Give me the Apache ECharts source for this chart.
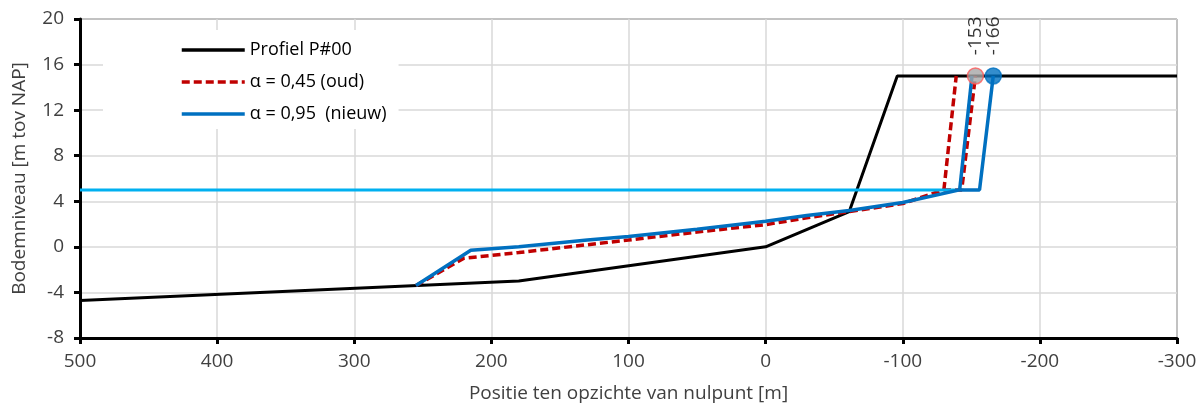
<!DOCTYPE html>
<html>
<head>
<meta charset="utf-8">
<script src="https://cdn.jsdelivr.net/npm/echarts@6/dist/echarts.min.js"></script>
<style>
  html, body { margin: 0; padding: 0; background: #fff; }
  #chart { width: 1200px; height: 403px; }
</style>
</head>
<body>
<div id="chart"></div>
<script>
// Bodemprofiel P#00 en afslagprofielen (positie t.o.v. nulpunt, hoogte t.o.v. NAP)
const profielX = [500, 180, 0, -61, -96, -300];
const profielY = [-4.7, -3.0, 0.0, 3.1, 15.0, 15.0];

const oudX = [255, 220, 180, 100, 50, 0, -30, -61, -100, -130, -143, -153];
const oudY = [-3.4, -1.0, -0.5, 0.6, 1.3, 1.95, 2.55, 3.1, 3.8, 5.0, 5.0, 15.0];
const oudTaludX = [-130, -139];
const oudTaludY = [5.0, 15.0];

const nieuwX = [255, 215, 180, 130, 100, 50, 0, -30, -61, -100, -141.5, -156, -166];
const nieuwY = [-3.4, -0.3, 0.0, 0.6, 0.9, 1.55, 2.25, 2.75, 3.2, 3.9, 5.0, 5.0, 15.0];
const nieuwTaludX = [-141.5, -150.5];
const nieuwTaludY = [5.0, 15.0];

const waterX = [500, -140];
const waterY = [5.0, 5.0];

const puntX = [-153, -166];
const puntY = [15, 15];

const xTicks = { min: -300, max: 500, interval: 100 };
const yTicks = { min: -8, max: 20, interval: 4 };

const pairs = (xs, ys) => xs.map((x, i) => [x, ys[i]]);

const FONT = '"Open Sans", "Noto Sans", sans-serif';
const TEXT = '#404040';

const chart = echarts.init(document.getElementById('chart'), null, { renderer: 'canvas' });

chart.setOption({
  animation: false,
  backgroundColor: '#fff',
  grid: {
    left: 80, right: 23, top: 19, bottom: 65,
    outerBoundsMode: 'none',
    show: true, borderColor: '#000', borderWidth: 1
  },
  legend: {
    orient: 'vertical',
    left: 103,
    top: 30,
    backgroundColor: '#fff',
    padding: [11, 12, 6, 77],
    itemWidth: 63,
    itemHeight: 14,
    itemGap: 14,
    itemStyle: { opacity: 0 },
    lineStyle: { width: 3.5 },
    textStyle: { fontFamily: FONT, fontSize: 18, color: '#000' },
    data: ['Profiel P#00', 'α = 0,45 (oud)', 'α = 0,95  (nieuw)']
  },
  xAxis: {
    type: 'value',
    inverse: true,
    min: xTicks.min,
    max: xTicks.max,
    interval: xTicks.interval,
    name: 'Positie ten opzichte van nulpunt [m]',
    nameLocation: 'middle',
    nameGap: 46,
    nameTextStyle: { fontFamily: FONT, fontSize: 19, color: TEXT },
    axisLine: { onZero: false, lineStyle: { color: '#000', width: 3 } },
    axisTick: { show: true, length: 6, lineStyle: { color: '#000', width: 3 } },
    axisLabel: { margin: 14, fontFamily: FONT, fontSize: 19, color: TEXT },
    splitLine: { show: true, lineStyle: { color: '#d9d9d9', width: 1.5 } }
  },
  yAxis: {
    type: 'value',
    min: yTicks.min,
    max: yTicks.max,
    interval: yTicks.interval,
    name: 'Bodemniveau [m tov NAP]',
    nameLocation: 'middle',
    nameGap: 51,
    nameTextStyle: { fontFamily: FONT, fontSize: 19, color: TEXT },
    axisLine: { onZero: false, lineStyle: { color: '#000', width: 3 } },
    axisTick: { show: true, length: 6, lineStyle: { color: '#000', width: 3 } },
    axisLabel: { margin: 16, fontFamily: FONT, fontSize: 19, color: TEXT },
    splitLine: { show: true, lineStyle: { color: '#d9d9d9', width: 1.5 } }
  },
  series: [
    {
      name: 'Profiel P#00',
      type: 'line',
      data: pairs(profielX, profielY),
      symbol: 'none',
      lineStyle: { color: '#000', width: 3 },
      itemStyle: { color: '#000' },
      z: 2
    },
    {
      name: 'α = 0,45 (oud)',
      type: 'line',
      data: pairs(oudX, oudY),
      symbol: 'none',
      lineStyle: { color: '#c00000', width: 3.5, type: [8, 4] },
      itemStyle: { color: '#c00000' },
      z: 3
    },
    {
      type: 'line',
      data: pairs(oudTaludX, oudTaludY),
      symbol: 'none',
      lineStyle: { color: '#c00000', width: 3.5, type: [8, 4] },
      z: 3
    },
    {
      type: 'line',
      data: pairs(waterX, waterY),
      symbol: 'none',
      lineStyle: { color: '#00b0f0', width: 3 },
      z: 4
    },
    {
      name: 'α = 0,95  (nieuw)',
      type: 'line',
      data: pairs(nieuwX, nieuwY),
      symbol: 'none',
      lineStyle: { color: '#0070c0', width: 3.5 },
      itemStyle: { color: '#0070c0' },
      z: 5
    },
    {
      type: 'line',
      data: pairs(nieuwTaludX, nieuwTaludY),
      symbol: 'none',
      lineStyle: { color: '#0070c0', width: 3.5 },
      z: 5
    },
    {
      type: 'scatter',
      data: pairs(puntX, puntY).map((p, i) => ({
        value: p,
        itemStyle: i === 0
          ? { color: '#a6a6a6', borderColor: '#ff5b5b', borderWidth: 1.5 }
          : { color: '#0070c0', borderColor: '#0070c0', borderWidth: 1.5 }
      })),
      symbol: 'circle',
      symbolSize: 16,
      label: {
        show: true,
        position: 'top',
        rotate: 90,
        align: 'left',
        verticalAlign: 'middle',
        distance: 12,
        formatter: (p) => String(p.value[0]),
        fontFamily: FONT,
        fontSize: 19,
        color: '#000'
      },
      z: 6
    }
  ]
});
</script>
</body>
</html>
